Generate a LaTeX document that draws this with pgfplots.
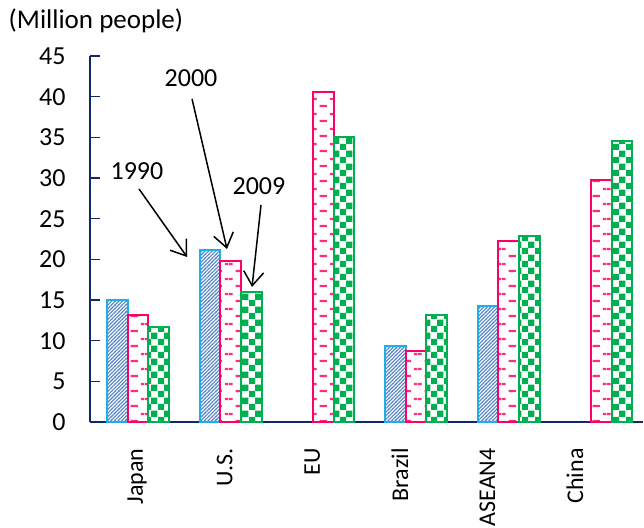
\documentclass[border=0pt]{standalone}
\usepackage{fontspec}
\setmainfont{Carlito}
\usepackage{pgfplots}
\pgfplotsset{compat=1.18}
\usetikzlibrary{patterns,arrows.meta}

\definecolor{navy}{HTML}{0F2A66}
\definecolor{c90line}{HTML}{1FAEE8}
\definecolor{c90fill}{HTML}{5B87C6}
\definecolor{c00line}{HTML}{FF0066}
\definecolor{c00fill}{HTML}{FF2E78}
\definecolor{c09}{HTML}{00B050}

% bar fills
\pgfdeclarepatternformonly{upstripes}{\pgfqpoint{-0.5pt}{-0.5pt}}{\pgfqpoint{2.3pt}{2.3pt}}{\pgfqpoint{1.8pt}{1.8pt}}{%
  \pgfsetlinewidth{0.55pt}%
  \pgfpathmoveto{\pgfqpoint{-0.2pt}{-0.2pt}}%
  \pgfpathlineto{\pgfqpoint{2.0pt}{2.0pt}}%
  \pgfusepath{stroke}}
\pgfdeclarepatternformonly{hdashes}{\pgfpointorigin}{\pgfqpoint{10.35pt}{7.5pt}}{\pgfqpoint{10.35pt}{7.5pt}}{%
  \pgfpathrectangle{\pgfqpoint{3.3pt}{0.5pt}}{\pgfqpoint{3.75pt}{1.2pt}}%
  \pgfpathrectangle{\pgfqpoint{0pt}{4.25pt}}{\pgfqpoint{1.85pt}{1.2pt}}%
  \pgfpathrectangle{\pgfqpoint{8.5pt}{4.25pt}}{\pgfqpoint{1.85pt}{1.2pt}}%
  \pgfusepath{fill}}
\pgfdeclarepatternformonly{checker}{\pgfpointorigin}{\pgfqpoint{6.6pt}{6.6pt}}{\pgfqpoint{6.6pt}{6.6pt}}{%
  \pgfpathrectangle{\pgfpointorigin}{\pgfqpoint{3.3pt}{3.3pt}}%
  \pgfpathrectangle{\pgfqpoint{3.3pt}{3.3pt}}{\pgfqpoint{3.3pt}{3.3pt}}%
  \pgfusepath{fill}}

\begin{document}
\begin{tikzpicture}
\begin{axis}[
    scale only axis,
    width=276.5pt, height=183pt,
    ybar,
    bar width=0.223,
    xmin=-0.518, xmax=5.448,
    ymin=0, ymax=45,
    ytick={0,5,...,45},
    xtick={-0.011,0.934,1.879,2.824,3.769,4.714},
    xticklabels={Japan,U.S.,EU,Brazil,ASEAN4,China},
    axis lines=left,
    axis line style={-, draw=navy, line width=1pt},
    xtick style={draw=none},
    ytick style={draw=navy, line width=0.8pt},
    tick align=inside,
    major tick length=5pt,
    /pgf/number format/assume math mode=true,
    yticklabel style={font=\fontsize{13}{15}\selectfont, anchor=east, inner sep=0pt, xshift=-12pt},
    xticklabel style={font=\fontsize{12}{14}\selectfont, inner sep=0pt, yshift=-13pt, rotate=90, anchor=east},
    clip=false,
]
\addplot[draw=c90line, line width=1pt, pattern=upstripes, pattern color=c90fill, bar shift=-0.223]
  coordinates {(0,15.0) (1,21.2) (3,9.4) (4,14.3)};
\addplot[draw=c00line, line width=1pt, pattern=hdashes, pattern color=c00fill, bar shift=0]
  coordinates {(0,13.1) (1,19.8) (2,40.6) (3,8.7) (4,22.2) (5,29.8)};
\addplot[draw=c09, line width=1pt, pattern=checker, pattern color=c09, bar shift=0.223]
  coordinates {(0,11.7) (1,16.0) (2,35.1) (3,13.1) (4,22.9) (5,34.6)};

% year callouts
\begin{scope}[font=\fontsize{13}{15}\selectfont]
\node at (axis cs:-0.011,30.86) {1990};
\node at (axis cs:0.572,42.3) {2000};
\node at (axis cs:1.305,29.02) {2009};
\end{scope}
\begin{scope}[line width=0.75pt, -{Straight Barb[length=7pt,width=10pt]}]
\draw (axis cs:0.011,28.65) -- (axis cs:0.529,20.29);
\draw (axis cs:0.583,39.71) -- (axis cs:0.960,21.27);
\draw (axis cs:1.327,26.68) -- (axis cs:1.230,16.60);
\end{scope}

\node[font=\fontsize{13.5}{16}\selectfont] at (axis description cs:0.0108,1.0956) {(Million people)};
\end{axis}
\pgfresetboundingbox
\path[use as bounding box] (-45pt,-53pt) rectangle (277pt,211pt);
\end{tikzpicture}
\end{document}
